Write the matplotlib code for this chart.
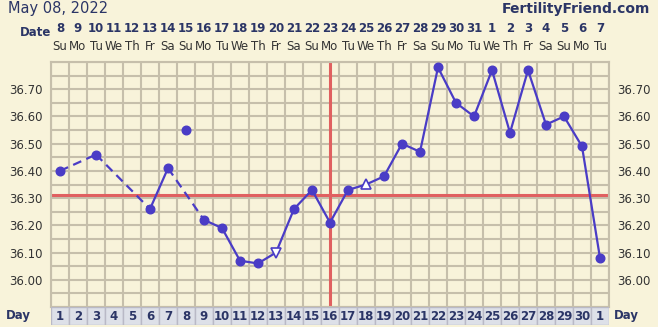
import numpy as np
import matplotlib.pyplot as plt

# cycle data
cycle_days = list(range(1, 32))
day_labels = [str(d) for d in range(1, 31)] + ["1"]
date_labels = [str(d) for d in range(8, 32)] + [str(d) for d in range(1, 8)]
weekdays = ["Su", "Mo", "Tu", "We", "Th", "Fr", "Sa"]

temp_days = [1, 3, 6, 7, 9, 10, 11, 12, 13, 14, 15, 16, 17, 18, 19, 20, 21,
             22, 23, 24, 25, 26, 27, 28, 29, 30, 31]
temps = [36.40, 36.46, 36.26, 36.41, 36.22, 36.19, 36.07, 36.06, 36.10, 36.26,
         36.33, 36.21, 36.33, 36.35, 36.38, 36.50, 36.47, 36.78, 36.65, 36.60,
         36.77, 36.54, 36.77, 36.57, 36.60, 36.49, 36.08]
discarded_day = [8]
discarded_temp = [36.55]
open_down = [13]
open_up = [18]
coverline = 36.31
ovulation_day = 16

BG = "#f8f3da"
GRID = "#c6bfab"
BLUE = "#4a3cc6"
RED = "#e06060"
NAVY = "#2b3566"

W, H = 658, 327
fig = plt.figure(figsize=(W / 100, H / 100), dpi=100, facecolor=BG)

left, right, top, bottom = 51, 609, 62, 307
ax = fig.add_axes([left / W, 1 - bottom / H, (right - left) / W, (bottom - top) / H])
ax.set_facecolor(BG)
ax.set_xlim(0.5, 31.5)
ax.set_ylim(35.90, 36.80)

for x in np.arange(0.5, 32, 1):
    ax.axvline(x, color=GRID, lw=1.5, zorder=1)
for y in np.arange(35.90, 36.81, 0.05):
    ax.axhline(y, color=GRID, lw=1.5, zorder=1)
for s in ax.spines.values():
    s.set_color(GRID)
    s.set_linewidth(1.5)

ax.axhline(coverline, color=RED, lw=2.2, zorder=2)
ax.axvline(ovulation_day, color=RED, lw=2.2, zorder=2)

# connect points: dashed where days are skipped
for i in range(len(temp_days) - 1):
    x0, x1 = temp_days[i], temp_days[i + 1]
    ls = "-" if x1 - x0 == 1 else (0, (4, 2.5))
    ax.plot([x0, x1], [temps[i], temps[i + 1]], color=BLUE, lw=1.6,
            ls=ls, zorder=3)

filled = [(d, t) for d, t in zip(temp_days, temps) if d not in open_down + open_up]
ax.plot([d for d, _ in filled], [t for _, t in filled], "o", color=BLUE,
        ms=6.2, zorder=4)
ax.plot(discarded_day, discarded_temp, "o", color=BLUE, ms=6.2, zorder=4)
for d in open_down:
    ax.plot(d, temps[temp_days.index(d)], "v", mfc="white", mec=BLUE, mew=1.2,
            ms=7, zorder=4)
for d in open_up:
    ax.plot(d, temps[temp_days.index(d)], "^", mfc="white", mec=BLUE, mew=1.2,
            ms=7, zorder=4)

ticks = np.arange(36.0, 36.71, 0.1)
ax.set_yticks(ticks)
ax.set_yticklabels([f"{t:.2f}" for t in ticks])
ax.tick_params(axis="y", length=0, labelsize=8.5, labelcolor="#333333",
               labelleft=True, labelright=True, pad=6)
ax.set_xticks([])

# day boxes
axd = fig.add_axes([left / W, 1 - 325 / H, (right - left) / W, 18 / H])
axd.set_xlim(0.5, 31.5)
axd.set_ylim(0, 1)
axd.axis("off")
axd.bar(cycle_days, [1] * len(cycle_days), width=1, bottom=0, color="#dde0e8",
        edgecolor="#b9b9c6", lw=1)
for d, lab in zip(cycle_days, day_labels):
    axd.text(d, 0.45, lab, ha="center", va="center", fontsize=8.5,
             fontweight="bold", color=NAVY)

# date and weekday rows
for d, lab in zip(cycle_days, date_labels):
    x = ax.transData.transform((d, 36))[0] / W
    fig.text(x, 1 - 29 / H, lab, ha="center", va="center", fontsize=8.5,
             fontweight="bold", color=NAVY)
    fig.text(x, 1 - 46 / H, weekdays[(d - 1) % 7], ha="center", va="center",
             fontsize=8.5, color="#333333")

fig.text(8 / W, 1 - 9 / H, "May 08, 2022", ha="left", va="center",
         fontsize=10.5, color=NAVY)
fig.text(650 / W, 1 - 9 / H, "FertilityFriend.com", ha="right", va="center",
         fontsize=10, fontweight="bold", color=NAVY)
fig.text(20 / W, 1 - 33 / H, "Date", ha="left", va="center", fontsize=8.5,
         fontweight="bold", color=NAVY)
fig.text(6 / W, 1 - 316 / H, "Day", ha="left", va="center", fontsize=8.5,
         fontweight="bold", color=NAVY)
fig.text(614 / W, 1 - 316 / H, "Day", ha="left", va="center", fontsize=8.5,
         fontweight="bold", color=NAVY)

fig.savefig("out.png", dpi=100, facecolor=BG)
